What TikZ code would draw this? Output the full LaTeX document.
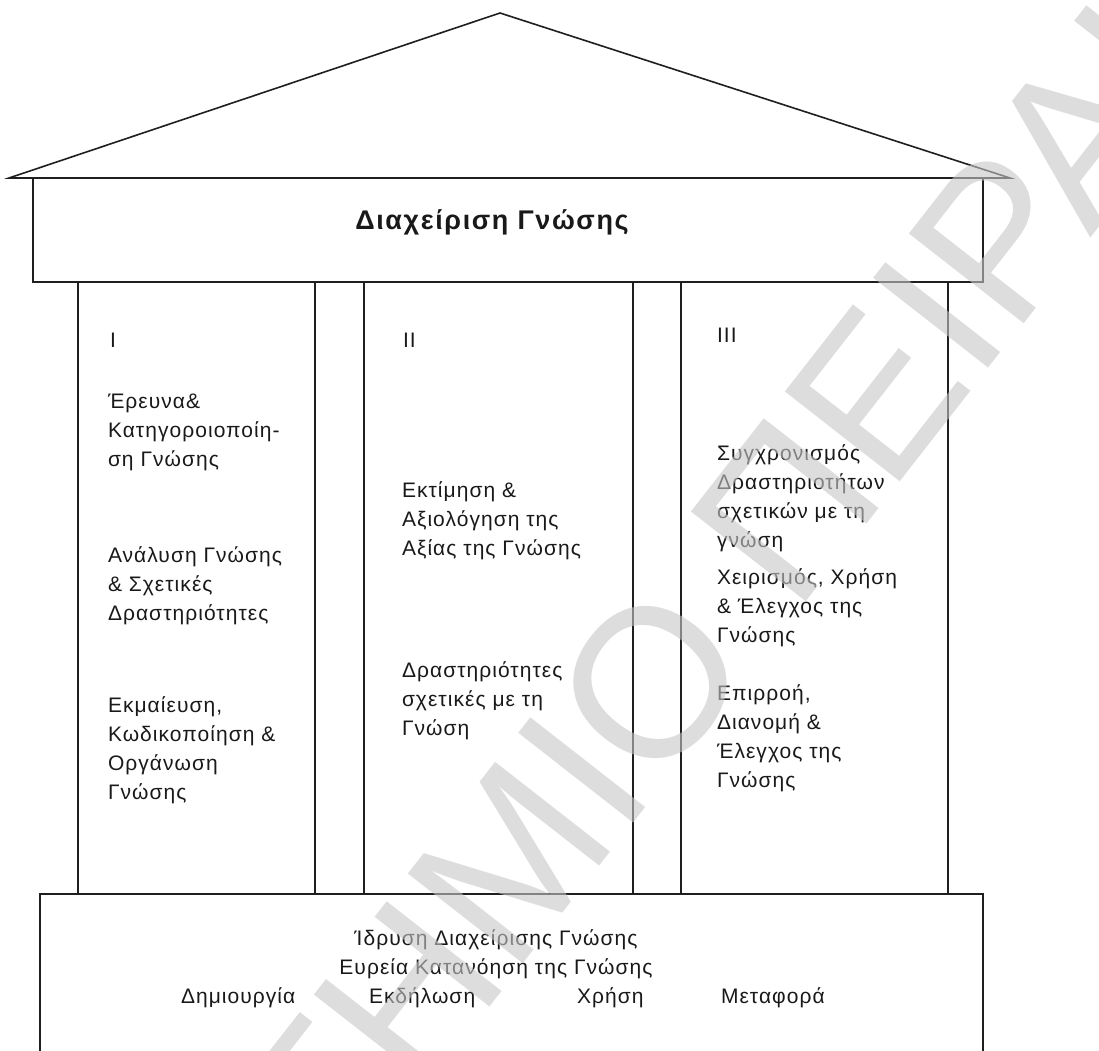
\documentclass[tikz,border=0pt]{standalone}
\usepackage{fontspec}
\setmainfont{Liberation Sans}[LetterSpace=5]
\newfontfamily\titlefont{Liberation Sans}[LetterSpace=6]
\newfontfamily\markfont{Liberation Sans}
\newcommand\fl{\rule{0pt}{21pt}}% fixes the height of a block's first line
\begin{document}
\begin{tikzpicture}[x=1pt,y=-1pt,
  outline/.style={draw=black!88, line width=1.6pt, line join=miter},
  txt/.style={inner sep=0pt, outer sep=0pt, font=\fontsize{21}{29}\selectfont, text=black!90},
  block/.style={txt, anchor=north west, align=left},
  word/.style={txt, anchor=base west},
  centred/.style={txt, anchor=base},
]
\useasboundingbox (0,0) rectangle (1099,1050);
\clip (0,0) rectangle (1099,1050);

% roof
\draw[outline] (9,178) -- (500,13) -- (1010,178) -- cycle;
% architrave
\draw[outline] (33,178) rectangle (983,282);
% three pillars
\draw[outline] (78,282) rectangle (315,894);
\draw[outline] (364,282) rectangle (633,894);
\draw[outline] (681,282) rectangle (948,894);
% foundation (open at the bottom edge)
\draw[outline] (40,1060) -- (40,894) -- (983,894) -- (983,1060);

% architrave title
\node[txt, anchor=base, font=\titlefont\fontsize{27}{30}\selectfont\bfseries] (title) at (492,229) {Διαχείριση Γνώσης};

% pillar I
\node[word] (n1) at (110,347) {I};
\node[block] (p1a) at (108,387) {\fl Έρευνα\&\\Κατηγοροιοποίη-\\ση Γνώσης};
\node[block] (p1b) at (108,541) {\fl Ανάλυση Γνώσης\\\& Σχετικές\\Δραστηριότητες};
\node[block] (p1c) at (108,691) {\fl Εκμαίευση,\\Κωδικοποίηση \&\\Οργάνωση\\Γνώσης};

% pillar II
\node[word] (n2) at (403,347) {II};
\node[block] (p2a) at (402,476) {\fl Εκτίμηση \&\\Αξιολόγηση της\\Αξίας της Γνώσης};
\node[block] (p2b) at (402,656) {\fl Δραστηριότητες\\σχετικές με τη\\Γνώση};

% pillar III
\node[word] (n3) at (717,342) {III};
\node[block] (p3a) at (717,439) {\fl Συγχρονισμός\\Δραστηριοτήτων\\σχετικών με τη\\γνώση};
\node[block] (p3b) at (717,563) {\fl Χειρισμός, Χρήση\\\& Έλεγχος της\\Γνώσης};
\node[block] (p3c) at (717,679) {\fl Επιρροή,\\Διανομή \&\\Έλεγχος της\\Γνώσης};

% foundation text
\node[centred] (found) at (496,945) {Ίδρυση Διαχείρισης Γνώσης};
\node[centred] (broad) at (496,974) {Ευρεία Κατανόηση της Γνώσης};
\node[word] (w1) at (181,1003) {Δημιουργία};
\node[word] (w2) at (369,1003) {Εκδήλωση};
\node[word] (w3) at (577,1003) {Χρήση};
\node[word] (w4) at (721,1003) {Μεταφορά};

% diagonal watermark
\node[inner sep=0pt, anchor=base west, rotate=52, text=black!22, opacity=0.6,
      font=\markfont\fontsize{212}{212}\selectfont] (mark) at (-235,1935) {ΠΑΝΕΠΙΣΤΗΜΙΟ ΠΕΙΡΑΙΑ};
\end{tikzpicture}
\end{document}
